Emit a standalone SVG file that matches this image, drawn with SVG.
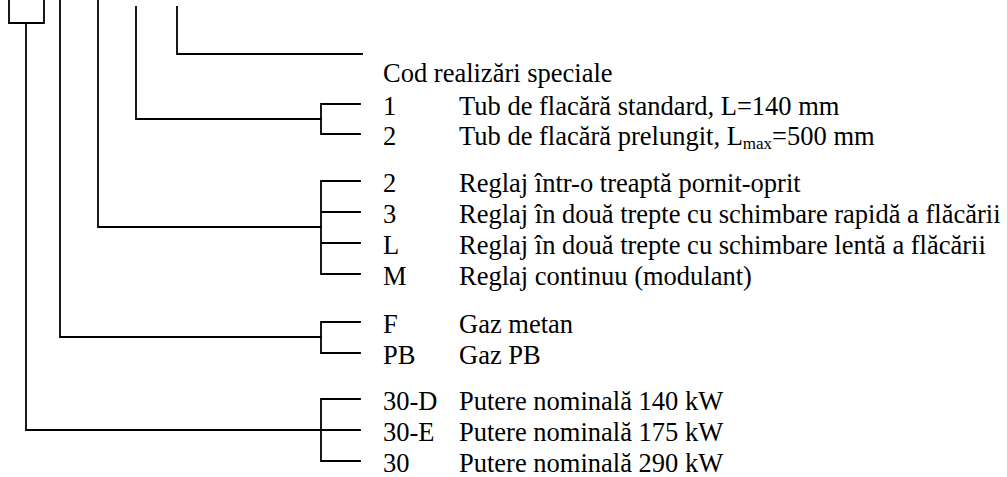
<svg xmlns="http://www.w3.org/2000/svg" width="1007" height="477" viewBox="0 0 1007 477">
<style>
.ln{stroke:#000;stroke-width:1.8;fill:none;stroke-linecap:square}
text{font-family:"Liberation Serif","Times New Roman",serif;font-size:26.5px;fill:#000}
.sub{font-size:17px}
</style>
<rect width="1007" height="477" fill="#fff"/>
<g id="connectors" class="ln">
<path d="M9,0V23H44V0"/>
<path d="M26,23V430H360"/>
<path d="M60,0V337H321"/>
<path d="M98,0V227H321"/>
<path d="M136,7V119H321"/>
<path d="M177,7V54H362"/>
<path d="M360,104H321V134H360"/>
<path d="M360,181H321V274H360M321,212H360M321,243H360"/>
<path d="M360,322H321V353H360"/>
<path d="M360,399H321V461H360"/>
</g>
<g id="special">
<text x="383" y="82">Cod realizări speciale</text>
</g>
<g id="tube">
<text x="383" y="115">1</text><text x="459" y="115">Tub de flacără standard, L=140 mm</text>
<text x="383" y="145">2</text><text x="459" y="145">Tub de flacără prelungit, L<tspan class="sub" dy="4">max</tspan><tspan dy="-4">=500 mm</tspan></text>
</g>
<g id="regulation">
<text x="383" y="192">2</text><text x="459" y="192">Reglaj într-o treaptă pornit-oprit</text>
<text x="383" y="223">3</text><text x="459" y="223">Reglaj în două trepte cu schimbare rapidă a flăcării</text>
<text x="383" y="254">L</text><text x="459" y="254">Reglaj în două trepte cu schimbare lentă a flăcării</text>
<text x="383" y="285">M</text><text x="459" y="285">Reglaj continuu (modulant)</text>
</g>
<g id="fuel">
<text x="383" y="333">F</text><text x="459" y="333">Gaz metan</text>
<text x="383" y="364">PB</text><text x="459" y="364">Gaz PB</text>
</g>
<g id="power">
<text x="383" y="410">30-D</text><text x="459" y="410">Putere nominală 140 kW</text>
<text x="383" y="441">30-E</text><text x="459" y="441">Putere nominală 175 kW</text>
<text x="383" y="472">30</text><text x="459" y="472">Putere nominală 290 kW</text>
</g>
</svg>
